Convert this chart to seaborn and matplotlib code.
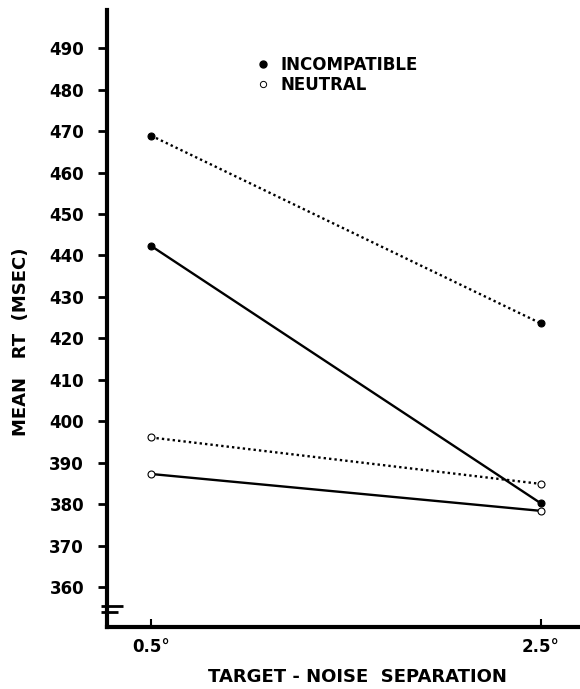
import pandas as pd
import matplotlib
matplotlib.use("Agg")
import matplotlib.pyplot as plt
from matplotlib.lines import Line2D
import seaborn as sns

# separation (deg) at which RT was measured
separation = [0.5, 2.5]
# mean RT (msec)
incompatible_dotted = [468.9, 423.6]
incompatible_solid = [442.3, 380.2]
neutral_dotted = [396.1, 384.9]
neutral_solid = [387.3, 378.4]

rows = []
for flanker, cond, vals in [
    ("INCOMPATIBLE", "dotted", incompatible_dotted),
    ("INCOMPATIBLE", "solid", incompatible_solid),
    ("NEUTRAL", "dotted", neutral_dotted),
    ("NEUTRAL", "solid", neutral_solid),
]:
    for s, v in zip(separation, vals):
        rows.append({"separation": s, "rt": v, "flanker": flanker, "cond": cond})
df = pd.DataFrame(rows)

sns.set_style("ticks")
plt.rcParams["font.family"] = ["DejaVu Sans"]
plt.rcParams["font.weight"] = "bold"
plt.rcParams["text.color"] = "black"
plt.rcParams["axes.labelcolor"] = "black"

fig = plt.figure(figsize=(5.8, 6.89), dpi=100)
ax = fig.add_axes([0.1845, 0.090, 0.8155, 0.8955])

styles = {"dotted": (0, (1, 1.3)), "solid": "-"}
faces = {"INCOMPATIBLE": "black", "NEUTRAL": "white"}
for (flanker, cond), sub in df.groupby(["flanker", "cond"]):
    sns.lineplot(data=sub, x="separation", y="rt", ax=ax, color="black",
                 linestyle=styles[cond], linewidth=1.7, marker="o",
                 markersize=5, markerfacecolor=faces[flanker],
                 markeredgecolor="black", markeredgewidth=0.8, zorder=3)

ax.set_xlim(0.274, 2.70)
ax.set_ylim(350.4, 499.2)
ax.set_yticks(range(360, 500, 10))
ax.set_yticklabels([str(v) for v in range(360, 500, 10)], fontsize=12, fontweight="bold")
ax.set_xticks(separation)
ax.set_xticklabels(["0.5°", "2.5°"], fontsize=12, fontweight="bold")
ax.tick_params(axis="y", direction="out", length=6.5, width=2, pad=10,
               colors="black", labelcolor="black")
ax.tick_params(axis="x", direction="in", length=6, width=1.5, pad=8,
               colors="black", labelcolor="black")

sns.despine(ax=ax)
for side in ["left", "bottom"]:
    ax.spines[side].set_linewidth(3)
    ax.spines[side].set_color("black")

# axis break marks on the y axis
ax.plot([-0.013, 0.033], [0.034, 0.034], transform=ax.transAxes, color="black",
        lw=2, clip_on=False, solid_capstyle="butt")
ax.plot([-0.013, 0.023], [0.024, 0.024], transform=ax.transAxes, color="black",
        lw=2, clip_on=False, solid_capstyle="butt")

ax.set_xlabel("TARGET - NOISE  SEPARATION", fontsize=13, fontweight="bold", color="black")
ax.xaxis.label.set_va("center")
ax.xaxis.set_label_coords(0.53, -0.081)
ax.set_ylabel("MEAN   RT  (MSEC)", fontsize=13, fontweight="bold", color="black")
ax.yaxis.set_label_coords(-0.163, 0.462)

handles = [
    Line2D([], [], marker="o", linestyle="none", markersize=5,
           markerfacecolor="black", markeredgecolor="black"),
    Line2D([], [], marker="o", linestyle="none", markersize=4.5,
           markerfacecolor="white", markeredgecolor="black", markeredgewidth=0.7),
]
leg = ax.legend(handles, ["INCOMPATIBLE", "NEUTRAL"], loc="upper left",
                bbox_to_anchor=(0.283, 0.95), frameon=False,
                handlelength=0.8, handletextpad=0.65, labelspacing=0.1,
                prop={"weight": "bold", "size": 12})
for t in leg.get_texts():
    t.set_color("black")

fig.savefig("out.png", dpi=100)
plt.close()
